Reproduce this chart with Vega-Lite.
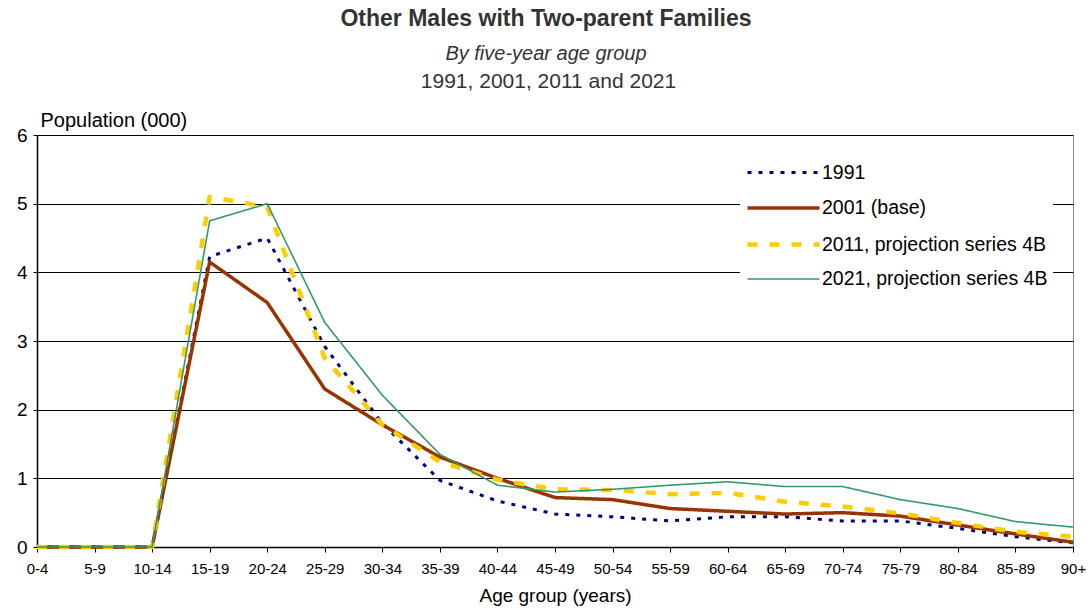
{
  "$schema": "https://vega.github.io/schema/vega-lite/v6.json",
  "width": 1036,
  "height": 412,
  "autosize": {"type": "none"},
  "padding": {"left": 37, "top": 135, "right": 19, "bottom": 62},
  "background": "white",
  "title": {
    "text": "Other Males with Two-parent Families",
    "subtitle": "By five-year age group",
    "anchor": "middle",
    "frame": "group",
    "dx": -9,
    "font": "Liberation Sans",
    "fontSize": 23,
    "fontWeight": "bold",
    "color": "#333333",
    "subtitleFont": "Liberation Sans",
    "subtitleFontSize": 20,
    "subtitleFontStyle": "italic",
    "subtitleColor": "#333333",
    "subtitlePadding": 13,
    "offset": 6
  },
  "config": {
    "font": "Liberation Sans",
    "view": {"stroke": "#888888", "strokeWidth": 1},
    "axis": {
      "labelFont": "Liberation Sans",
      "titleFont": "Liberation Sans",
      "labelColor": "#000000",
      "titleColor": "#000000",
      "titleFontWeight": "normal",
      "domainColor": "#000000",
      "tickColor": "#000000",
      "gridColor": "#000000",
      "gridOpacity": 1
    },
    "legend": {
      "labelFont": "Liberation Sans",
      "labelColor": "#000000"
    }
  },
  "data": {
    "values": [
      {"age": "0-4", "series": "1991", "value": 0},
      {"age": "5-9", "series": "1991", "value": 0},
      {"age": "10-14", "series": "1991", "value": 0},
      {"age": "15-19", "series": "1991", "value": 4.23},
      {"age": "20-24", "series": "1991", "value": 4.5},
      {"age": "25-29", "series": "1991", "value": 2.92},
      {"age": "30-34", "series": "1991", "value": 1.8},
      {"age": "35-39", "series": "1991", "value": 0.97},
      {"age": "40-44", "series": "1991", "value": 0.67},
      {"age": "45-49", "series": "1991", "value": 0.48},
      {"age": "50-54", "series": "1991", "value": 0.44},
      {"age": "55-59", "series": "1991", "value": 0.38},
      {"age": "60-64", "series": "1991", "value": 0.44},
      {"age": "65-69", "series": "1991", "value": 0.44},
      {"age": "70-74", "series": "1991", "value": 0.38},
      {"age": "75-79", "series": "1991", "value": 0.38},
      {"age": "80-84", "series": "1991", "value": 0.27},
      {"age": "85-89", "series": "1991", "value": 0.15},
      {"age": "90+", "series": "1991", "value": 0.06},
      {"age": "0-4", "series": "2001 (base)", "value": 0},
      {"age": "5-9", "series": "2001 (base)", "value": 0},
      {"age": "10-14", "series": "2001 (base)", "value": 0},
      {"age": "15-19", "series": "2001 (base)", "value": 4.15},
      {"age": "20-24", "series": "2001 (base)", "value": 3.56},
      {"age": "25-29", "series": "2001 (base)", "value": 2.3},
      {"age": "30-34", "series": "2001 (base)", "value": 1.78},
      {"age": "35-39", "series": "2001 (base)", "value": 1.31},
      {"age": "40-44", "series": "2001 (base)", "value": 1.0},
      {"age": "45-49", "series": "2001 (base)", "value": 0.72},
      {"age": "50-54", "series": "2001 (base)", "value": 0.69},
      {"age": "55-59", "series": "2001 (base)", "value": 0.56},
      {"age": "60-64", "series": "2001 (base)", "value": 0.52},
      {"age": "65-69", "series": "2001 (base)", "value": 0.48},
      {"age": "70-74", "series": "2001 (base)", "value": 0.5},
      {"age": "75-79", "series": "2001 (base)", "value": 0.45},
      {"age": "80-84", "series": "2001 (base)", "value": 0.32},
      {"age": "85-89", "series": "2001 (base)", "value": 0.19},
      {"age": "90+", "series": "2001 (base)", "value": 0.07},
      {"age": "0-4", "series": "2011, projection series 4B", "value": 0},
      {"age": "5-9", "series": "2011, projection series 4B", "value": 0},
      {"age": "10-14", "series": "2011, projection series 4B", "value": 0},
      {"age": "15-19", "series": "2011, projection series 4B", "value": 5.1},
      {"age": "20-24", "series": "2011, projection series 4B", "value": 4.95},
      {"age": "25-29", "series": "2011, projection series 4B", "value": 2.75},
      {"age": "30-34", "series": "2011, projection series 4B", "value": 1.78},
      {"age": "35-39", "series": "2011, projection series 4B", "value": 1.24},
      {"age": "40-44", "series": "2011, projection series 4B", "value": 0.98},
      {"age": "45-49", "series": "2011, projection series 4B", "value": 0.84},
      {"age": "50-54", "series": "2011, projection series 4B", "value": 0.83},
      {"age": "55-59", "series": "2011, projection series 4B", "value": 0.77},
      {"age": "60-64", "series": "2011, projection series 4B", "value": 0.79},
      {"age": "65-69", "series": "2011, projection series 4B", "value": 0.66},
      {"age": "70-74", "series": "2011, projection series 4B", "value": 0.59},
      {"age": "75-79", "series": "2011, projection series 4B", "value": 0.49},
      {"age": "80-84", "series": "2011, projection series 4B", "value": 0.35},
      {"age": "85-89", "series": "2011, projection series 4B", "value": 0.22},
      {"age": "90+", "series": "2011, projection series 4B", "value": 0.15},
      {"age": "0-4", "series": "2021, projection series 4B", "value": 0},
      {"age": "5-9", "series": "2021, projection series 4B", "value": 0},
      {"age": "10-14", "series": "2021, projection series 4B", "value": 0},
      {"age": "15-19", "series": "2021, projection series 4B", "value": 4.75},
      {"age": "20-24", "series": "2021, projection series 4B", "value": 5.0},
      {"age": "25-29", "series": "2021, projection series 4B", "value": 3.27},
      {"age": "30-34", "series": "2021, projection series 4B", "value": 2.21},
      {"age": "35-39", "series": "2021, projection series 4B", "value": 1.35},
      {"age": "40-44", "series": "2021, projection series 4B", "value": 0.9},
      {"age": "45-49", "series": "2021, projection series 4B", "value": 0.8},
      {"age": "50-54", "series": "2021, projection series 4B", "value": 0.84},
      {"age": "55-59", "series": "2021, projection series 4B", "value": 0.9},
      {"age": "60-64", "series": "2021, projection series 4B", "value": 0.95},
      {"age": "65-69", "series": "2021, projection series 4B", "value": 0.88},
      {"age": "70-74", "series": "2021, projection series 4B", "value": 0.88},
      {"age": "75-79", "series": "2021, projection series 4B", "value": 0.69},
      {"age": "80-84", "series": "2021, projection series 4B", "value": 0.56},
      {"age": "85-89", "series": "2021, projection series 4B", "value": 0.37},
      {"age": "90+", "series": "2021, projection series 4B", "value": 0.29}
    ]
  },
  "resolve": {"axis": {"x": "independent"}},
  "layer": [
    {
      "mark": {"type": "line", "strokeCap": "butt", "strokeJoin": "round"},
      "encoding": {
        "x": {
          "field": "age",
          "type": "ordinal",
          "sort": null,
          "scale": {"type": "point", "padding": 0},
          "axis": {
            "title": "Age group (years)",
            "titleFontSize": 19,
            "titlePadding": 10,
            "labelFontSize": 15,
            "labelAngle": 0,
            "labelPadding": 9,
            "tickSize": 5,
            "domainWidth": 1.5,
            "grid": false
          }
        },
        "y": {
          "field": "value",
          "type": "quantitative",
          "scale": {"domain": [0, 6], "nice": false},
          "axis": {
            "title": "Population (000)",
            "titleAngle": 0,
            "titleAlign": "left",
            "titleBaseline": "alphabetic",
            "titleX": 3,
            "titleY": -9,
            "titleFontSize": 20,
            "labelFontSize": 19,
            "labelPadding": 6,
            "labelOverlap": false,
            "ticks": true,
            "tickSize": 4,
            "values": [0, 1, 2, 3, 4, 5, 6],
            "grid": true,
            "gridWidth": 1,
            "domainWidth": 1.5
          }
        },
        "color": {
          "field": "series",
          "type": "nominal",
          "sort": null,
          "scale": {
            "domain": ["1991", "2001 (base)", "2011, projection series 4B", "2021, projection series 4B"],
            "range": ["#000080", "#993300", "#FFCC00", "#339966"]
          },
          "legend": {
            "title": null,
            "orient": "none",
            "legendX": 703,
            "legendY": 13,
            "padding": 5,
            "fillColor": "white",
            "symbolType": "M-2,0H2",
            "symbolSize": 1296,
            "symbolOffset": 18,
            "labelFontSize": 19.5,
            "labelOffset": 18,
            "labelLimit": 0,
            "rowPadding": 6
          }
        },
        "strokeDash": {
          "field": "series",
          "type": "nominal",
          "sort": null,
          "scale": {
            "domain": ["1991", "2001 (base)", "2011, projection series 4B", "2021, projection series 4B"],
            "range": [[4, 7], [1, 0], [10, 12], [1, 0]]
          }
        },
        "strokeWidth": {
          "field": "series",
          "type": "nominal",
          "sort": null,
          "scale": {
            "type": "ordinal",
            "domain": ["1991", "2001 (base)", "2011, projection series 4B", "2021, projection series 4B"],
            "range": [3, 3.5, 4.5, 1.6]
          }
        }
      }
    },
    {
      "mark": {"type": "rule", "strokeOpacity": 0},
      "encoding": {
        "x": {
          "field": "age",
          "type": "ordinal",
          "sort": null,
          "axis": {
            "orient": "top",
            "title": "1991, 2001, 2011 and 2021",
            "titleFont": "Liberation Sans",
            "titleFontSize": 21,
            "titleFontWeight": "normal",
            "titleColor": "#333333",
            "titleBaseline": "alphabetic",
            "titleX": 511,
            "titleY": -48,
            "labels": false,
            "ticks": false,
            "domain": false,
            "grid": false
          }
        }
      }
    }
  ]
}
